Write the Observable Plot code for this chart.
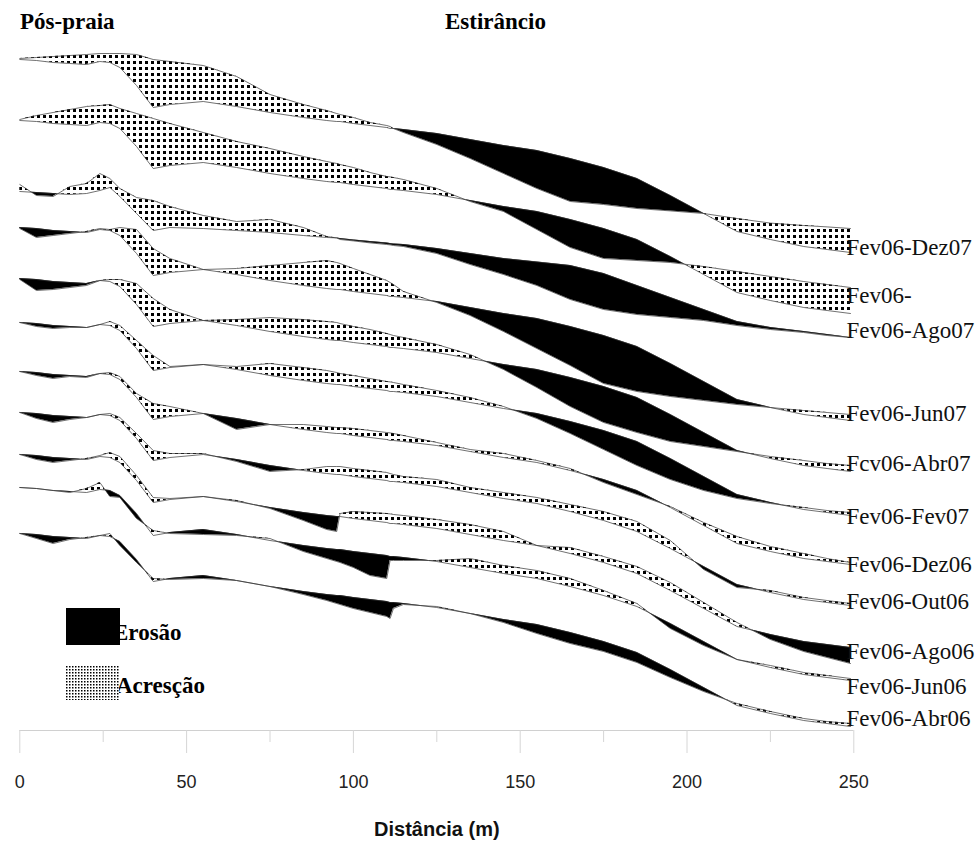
<!DOCTYPE html>
<html><head><meta charset="utf-8">
<script src="https://cdn.jsdelivr.net/npm/d3@7"></script>
<script src="https://cdn.jsdelivr.net/npm/@observablehq/plot@0.6"></script>
<style>
html,body{margin:0;padding:0;background:#fff;}
#wrap{position:relative;width:978px;height:846px;overflow:hidden;}
#overlay{position:absolute;left:0;top:0;pointer-events:none;}
</style></head><body>
<div id="wrap"><div id="chart"></div>
<svg id="overlay" width="978" height="846" xmlns="http://www.w3.org/2000/svg">
  <defs>
    <pattern id="dotsLeg" width="3" height="3" patternUnits="userSpaceOnUse">
      <rect width="3" height="3" fill="#fff"/><rect width="1.5" height="1.5" fill="#000"/>
    </pattern>
  </defs>
  <g font-family="'Liberation Serif', 'Times New Roman', serif" font-weight="bold" font-size="23" fill="#000">
    <text x="20" y="29">Pós-praia</text>
    <text x="445" y="29">Estirâncio</text>
    <text x="113" y="640">Erosão</text>
    <text x="116" y="693">Acresção</text>
  </g>
  <rect x="66" y="608" width="54" height="37" fill="#000"/>
  <rect x="66" y="666" width="53" height="34" fill="url(#dotsLeg)"/>
</svg>
</div>
<script>
// Distance along the profile (m)
const dist = [0,5,10,15,20,24,27,30,35,40,45,55,65,75,85,92,95,96,100,105,110,111,112,115,125,135,145,155,165,175,185,195,205,215,225,235,242,249];

// Reference profile, February 2006 (relative elevation, m)
const fev06 = [10,9.95,9.85,9.8,9.75,9.9,9.85,9.6,8.7,7.6,7.75,7.9,7.65,7.35,7.1,6.95,6.9,6.9,6.8,6.7,6.6,6.55,6.55,6.5,6.3,6.0,5.7,5.45,5.05,4.6,4.05,3.2,2.3,1.4,1.0,0.65,0.5,0.35];
// Reference profile as drawn in the Fev06-Ago07 pair
const fev06Ago07 = [10,9.95,9.9,9.85,9.9,10.05,10.2,9.75,8.9,8.05,8.2,8.15,8.05,7.95,7.8,7.7,7.68,7.65,7.58,7.5,7.43,7.4,7.38,7.35,7.15,6.9,6.65,6.48,6.3,5.9,5.3,4.7,4.1,3.5,3.2,3.0,2.85,2.7];

// Survey profiles
const dez07 = [10.05,10.1,10.15,10.2,10.25,10.3,10.3,10.3,10.25,10.0,9.9,9.7,9.15,8.25,7.75,7.45,7.3,7.25,7.1,6.85,6.7,6.65,6.55,6.35,5.75,5.05,4.3,3.55,2.9,2.75,2.55,2.43,2.3,2.05,1.82,1.7,1.63,1.55];
const out07 = [10.05,10.25,10.4,10.55,10.7,10.75,10.8,10.6,10.35,10.1,9.85,9.4,8.95,8.6,8.2,7.95,7.85,7.8,7.65,7.4,7.2,7.18,7.15,7.05,6.6,5.95,5.45,4.55,3.65,3.1,3.0,2.9,2.7,2.45,2.2,1.95,1.8,1.65];
const ago07 = [10.35,9.8,9.75,10.25,10.4,10.9,10.65,10.15,9.7,9.55,9.25,8.8,8.5,8.6,8.2,7.75,7.68,7.6,7.53,7.43,7.35,7.33,7.3,7.25,6.9,6.35,5.85,5.3,4.6,4.1,3.85,3.7,3.55,3.3,3.1,2.95,2.8,2.7];
const jun07 = [9.95,9.5,9.6,9.7,9.8,9.95,9.9,10.0,9.9,8.95,8.45,7.9,7.95,8.1,8.25,8.35,8.25,8.2,7.95,7.65,7.35,7.25,7.15,6.8,6.25,5.6,4.8,3.95,3.1,2.2,1.8,1.55,1.35,1.15,1.0,0.85,0.75,0.65];
const abr07 = [9.95,9.4,9.45,9.55,9.65,9.9,9.95,9.95,9.75,9.0,8.45,7.9,7.95,8.05,7.95,7.85,7.8,7.75,7.6,7.45,7.25,7.2,7.15,7.05,6.7,6.2,5.45,4.55,3.6,2.8,2.3,1.85,1.6,1.35,1.1,0.9,0.75,0.65];
const fev07 = [10,9.8,9.7,9.75,9.75,9.9,10.05,9.85,9.1,8.35,7.8,7.9,7.8,7.95,7.75,7.6,7.5,7.45,7.35,7.2,7.05,7.03,7.0,6.9,6.6,6.25,5.8,5.2,4.45,3.65,2.85,2.15,1.6,1.2,0.95,0.75,0.6,0.5];
const dez06 = [10,9.8,9.65,9.75,9.7,9.9,9.95,9.75,8.9,8.4,8.25,7.9,7.1,7.35,7.35,7.25,7.2,7.2,7.15,7.05,6.95,6.93,6.9,6.8,6.45,6.1,5.9,5.55,5.15,4.45,3.85,3.25,2.45,1.75,1.25,0.9,0.65,0.45];
const out06 = [10,9.7,9.5,9.65,9.75,9.9,9.95,9.75,8.95,8.1,7.95,7.95,7.55,7.05,7.15,7.3,7.3,7.3,7.2,7.1,7.0,6.95,6.9,6.8,6.65,6.25,6.0,5.75,5.4,5.05,4.55,3.6,2.15,1.25,1.1,0.75,0.6,0.45];
const ago06 = [10,9.75,9.6,9.7,9.8,9.95,10.1,9.9,8.95,7.85,7.8,7.9,7.7,7.3,6.7,6.25,6.15,7.05,7.15,7.1,7.05,7.03,7.0,6.95,6.75,6.5,6.15,5.45,5.35,4.9,4.4,3.6,2.6,1.6,0.75,0.15,-0.15,-0.45];
const jun06 = [10,9.95,9.85,9.75,9.95,10.25,9.55,9.5,8.45,7.85,7.7,7.65,7.6,7.45,6.8,6.45,6.3,6.25,6.0,5.6,5.45,6.35,6.35,6.35,6.35,6.45,6.1,5.85,5.45,4.85,4.2,2.95,2.1,1.4,1.1,0.75,0.6,0.45];
const abr06 = [10,9.75,9.5,9.7,9.8,9.9,10,9.4,8.55,7.75,7.7,7.75,7.65,7.35,6.95,6.65,6.5,6.45,6.25,6.05,5.85,5.75,6.25,6.45,6.35,6.0,5.55,5.0,4.5,4.1,3.55,2.8,2.1,1.5,1.1,0.75,0.6,0.5];

// Pair labels (top to bottom), vertical display offsets and label levels
const pairLabels = ["Fev06-Dez07","Fev06-","Fev06-Ago07","Fev06-Jun07","Fcv06-Abr07","Fev06-Fev07","Fev06-Dez06","Fev06-Out06","Fev06-Ago06","Fev06-Jun06","Fev06-Abr06"];
const pairOffsets = [23.7,20.65,17.1,15.3,12.75,10.55,8.1,6.05,3.95,2.3,0];
const labelLevels = [24.3,21.9,20.15,16.0,13.5,10.85,8.45,6.6,4.1,2.35,0.75];
const xTicksMajor = [0,50,100,150,200,250];
const xTicksMinor = [25,75,125,175,225];
const yDomain = [0.15, 34.65];

const surveys = [dez07,out07,ago07,jun07,abr07,fev07,dez06,out06,ago06,jun06,abr06];
const refs = [fev06,fev06,fev06Ago07,fev06,fev06,fev06,fev06,fev06,fev06,fev06,fev06];

function buildPts(ref, srv, off) {
  const pts = [];
  for (let k = 0; k < dist.length; k++) {
    const p = {x: dist[k], r: ref[k] + off, s: srv[k] + off};
    if (pts.length) {
      const q = pts[pts.length - 1];
      const d0 = q.s - q.r, d1 = p.s - p.r;
      if (d0 * d1 < 0) {
        const t = d0 / (d0 - d1);
        const y = q.r + t * (p.r - q.r);
        pts.push({x: q.x + t * (p.x - q.x), r: y, s: y});
      }
    }
    pts.push(p);
  }
  return pts;
}

const eroRows = [], accRows = [], lineRows = [];
pairLabels.forEach((name, i) => {
  const pts = buildPts(refs[i], surveys[i], pairOffsets[i]);
  let cur = null, run = 0;
  for (let k = 0; k < pts.length - 1; k++) {
    const a = pts[k], b = pts[k + 1];
    const m = (a.s - a.r) + (b.s - b.r);
    const type = m < 0 ? "ero" : "acc";
    if (!cur || cur.type !== type) {
      cur = {type, id: i + "-" + (run++), pts: [a]};
      (type === "ero" ? eroRows : accRows).push(cur);
    }
    cur.pts.push(b);
  }
  pts.forEach(p => { lineRows.push({x: p.x, y: p.r, id: i + "r"}); lineRows.push({x: p.x, y: p.s, id: i + "s"}); });
});
const flat = runs => runs.flatMap(r => r.pts.map(p => ({x: p.x, r: p.r, s: p.s, id: r.id})));

const chart = Plot.plot({
  width: 978, height: 846,
  marginLeft: 19.3, marginRight: 124.7, marginTop: 40, marginBottom: 116,
  x: {domain: [0, 250], label: null},
  y: {domain: yDomain, axis: null},
  style: {fontFamily: "'Liberation Sans', Arial, sans-serif", background: "white", overflow: "visible"},
  marks: [
    Plot.areaY(flat(accRows), {x: "x", y1: "r", y2: "s", z: "id", fill: "url(#dots)"}),
    Plot.areaY(flat(eroRows), {x: "x", y1: "r", y2: "s", z: "id", fill: "black"}),
    Plot.line(lineRows, {x: "x", y: "y", z: "id", stroke: "#333", strokeWidth: 0.7}),
    Plot.ruleY([yDomain[0]], {stroke: "#d0d0d0", strokeWidth: 1.2}),
    Plot.axisX({ticks: xTicksMinor, tickSize: 12, tickFormat: () => "", stroke: "#d6d6d6", label: null}),
    Plot.axisX({ticks: xTicksMajor, tickSize: 23, tickPadding: 22, fontSize: 18, stroke: "#d6d6d6", fill: "#222", label: null}),
    Plot.text(["Distância (m)"], {frameAnchor: "bottom", dy: 105, fontSize: 20, fontWeight: "bold", fill: "#111"}),
    Plot.text(pairLabels, {x: dist[dist.length - 1], y: (d, i) => labelLevels[i], text: d => d, textAnchor: "start", dx: -4, fontSize: 23, fontFamily: "'Liberation Serif', 'Times New Roman', serif", fill: "#111"})
  ]
});

d3.select(chart).insert("defs", ":first-child").html(
  '<pattern id="dots" width="6" height="6" patternUnits="userSpaceOnUse"><rect width="6" height="6" fill="#fff"/><rect x="1" y="1" width="3" height="3" fill="#000" shape-rendering="crispEdges"/></pattern>'
);
document.getElementById("chart").appendChild(chart);
</script>
</body></html>
